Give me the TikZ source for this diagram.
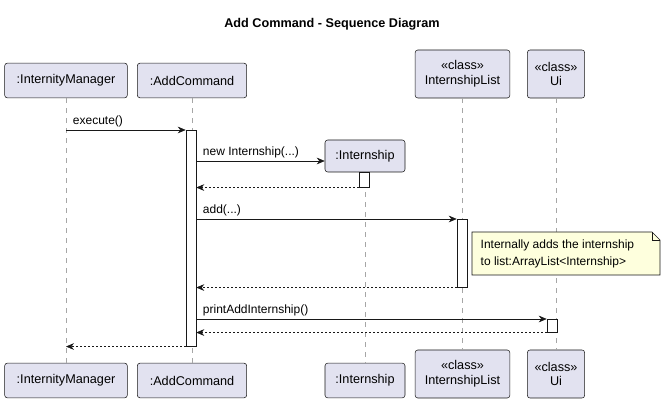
\documentclass[tikz,border=0pt]{standalone}
\usepackage{fontspec}
\setmainfont{Liberation Sans}
\usetikzlibrary{arrows.meta,shapes.misc}
\definecolor{partfill}{HTML}{E2E2F0}
\definecolor{notefill}{HTML}{FEFFDD}
\definecolor{linecol}{HTML}{181818}
\tikzset{
  part/.style={draw=linecol,fill=partfill,rounded corners=2pt,inner sep=2pt,font=\fontsize{9.5}{11}\selectfont,align=center},
  act/.style={draw=linecol,fill=white,inner sep=0pt,minimum width=7.5pt},
  life/.style={draw=gray!70,dash pattern=on 3.75pt off 3.75pt},
  msg/.style={draw=linecol,-{Stealth[length=6pt,width=5pt]}},
  ret/.style={msg,dash pattern=on 1.5pt off 1.5pt},
  lbl/.style={above right,inner sep=2pt,font=\fontsize{9}{11}\selectfont}
}
\begin{document}
\begin{tikzpicture}[x=0.75pt,y=-0.75pt]
\useasboundingbox (0,0) rectangle (665,420);
\node[font=\bfseries\fontsize{9.5}{11}\selectfont] (title) at (332,24) {Add Command - Sequence Diagram};

% participants, top
\node[part,minimum width=92pt,minimum height=26pt] (im) at (66,80.5) {:InternityManager};
\node[part,minimum width=82pt,minimum height=26pt] (ac) at (192,80.5) {:AddCommand};
\node[part,minimum width=60pt,minimum height=24pt] (in) at (365,156) {:Internship};
\node[part,minimum width=71pt,minimum height=36pt] (il) at (462.5,74) {«class»\\InternshipList};
\node[part,minimum width=43pt,minimum height=36pt] (ui) at (556,74) {«class»\\Ui};
% participants, bottom
\node[part,minimum width=92pt,minimum height=26pt] (im2) at (66,380.5) {:InternityManager};
\node[part,minimum width=82pt,minimum height=26pt] (ac2) at (192,380.5) {:AddCommand};
\node[part,minimum width=60pt,minimum height=26pt] (in2) at (365,380.5) {:Internship};
\node[part,minimum width=71pt,minimum height=36pt] (il2) at (462.5,374) {«class»\\InternshipList};
\node[part,minimum width=43pt,minimum height=36pt] (ui2) at (556,374) {«class»\\Ui};

% lifelines
\foreach \p in {im,ac,in,il,ui}
  \draw[life] (\p.south) -- (\p2.north);

% activations
\node[act,anchor=north,minimum height=162pt] (acA) at (191,130) {};
\node[act,anchor=north,minimum height=11.25pt] (inA) at (364,172) {};
\node[act,anchor=north,minimum height=51pt] (ilA) at (462,219) {};
\node[act,anchor=north,minimum height=9.75pt] (uiA) at (552,319) {};

% messages
\coordinate (m1) at (66,130);
\draw[msg] (m1) -- (acA.north west) node[lbl,pos=0,xshift=3pt] {execute()};
\coordinate (m2) at (196,161);
\draw[msg] (m2) -- (in.west |- m2) node[lbl,pos=0,xshift=3pt] {new Internship(...)};
\draw[ret] (inA.south west) -- (acA.east |- inA.south);
\coordinate (m3) at (196,219);
\draw[msg] (m3) -- (ilA.north west) node[lbl,pos=0,xshift=3pt] {add(...)};
\draw[ret] (ilA.south west) -- (acA.east |- ilA.south);
\coordinate (m4) at (196,319);
\draw[msg] (m4) -- (uiA.north west) node[lbl,pos=0,xshift=3pt] {printAddInternship()};
\draw[ret] (uiA.south west) -- (acA.east |- uiA.south);
\draw[ret] (acA.south west) -- (im.south |- acA.south);

% note
\draw[linecol,fill=notefill] (472,232) -- (652,232) -- (660,240) -- (660,275) -- (472,275) -- cycle;
\draw[linecol] (652,232) -- (652,240) -- (660,240);
\node[anchor=west,align=left,font=\fontsize{9}{13}\selectfont] (note) at (476,254) {Internally adds the internship\\to list:ArrayList<Internship>};
\end{tikzpicture}
\end{document}
